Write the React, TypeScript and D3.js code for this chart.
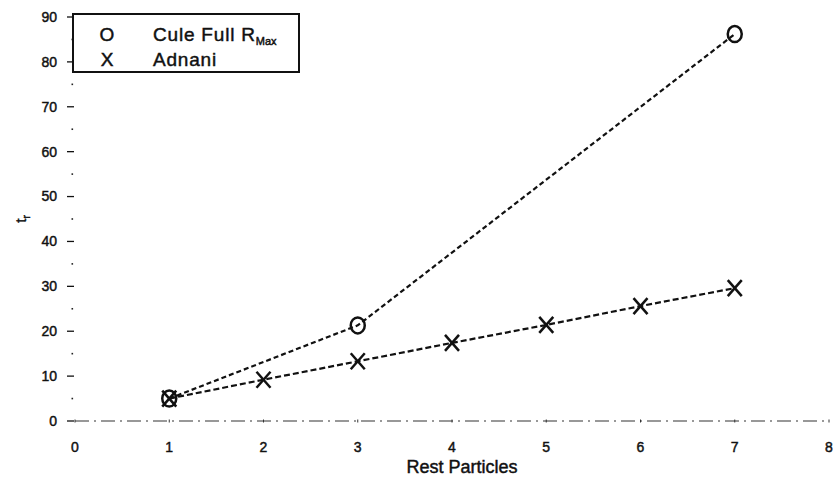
import React from "react";
import * as d3 from "d3";

// series
const culeX = [1, 3, 7];
const culeY = [5, 21.3, 86.2];
const adnaniX = [1, 2, 3, 4, 5, 6, 7];
const adnaniY = [5, 9.2, 13.3, 17.4, 21.4, 25.6, 29.6];

const xTicks = [0, 1, 2, 3, 4, 5, 6, 7, 8];
const yTicks = [0, 10, 20, 30, 40, 50, 60, 70, 80, 90];
const yMinor = [5, 15, 25, 35, 45, 55, 65, 75, 85];

const font = "'Liberation Sans', Arial, Helvetica, sans-serif";
// scanned text looks a little heavier than a plain regular face
const ink = { fill: "#111", stroke: "#111", strokeWidth: 0.45 };

export default function App() {
  const width = 836;
  const height = 487;

  const x = d3.scaleLinear().domain([0, 8]).range([75, 829]);
  const y = d3.scaleLinear().domain([0, 90]).range([421, 17]);

  const line = d3
    .line<[number, number]>()
    .x((d) => x(d[0]))
    .y((d) => y(d[1]));

  const cule = culeX.map((v, i) => [v, culeY[i]] as [number, number]);
  const adnani = adnaniX.map((v, i) => [v, adnaniY[i]] as [number, number]);

  return (
    <svg
      width={width}
      height={height}
      style={{ position: "absolute", left: 0, top: 0, background: "#fff" }}
      fontFamily={font}
    >
      {/* y axis ticks and labels */}
      {yTicks.map((t) => (
        <g key={"yt" + t}>
          <line x1={67} x2={74} y1={y(t)} y2={y(t)} stroke="#111" strokeWidth={1.3} />
          <text x={57} y={y(t)} dy="0.35em" textAnchor="end" fontSize={14} {...ink}>
            {t}
          </text>
        </g>
      ))}
      {yMinor.map((t) => (
        <rect key={"ym" + t} x={71.5} y={y(t) - 0.8} width={1.6} height={1.6} fill="#222" />
      ))}

      {/* x axis: faint dash-dot baseline */}
      <line
        x1={x(0)}
        x2={x(8)}
        y1={y(0)}
        y2={y(0)}
        stroke="#333"
        strokeWidth={1.1}
        strokeDasharray="14 5 2 5"
      />
      {xTicks.map((t) => (
        <g key={"xt" + t}>
          <line x1={x(t)} x2={x(t)} y1={y(0) - 1.5} y2={y(0) + 1.5} stroke="#333" strokeWidth={1} />
          <text x={x(t)} y={452} textAnchor="middle" fontSize={14} {...ink}>
            {t}
          </text>
        </g>
      ))}

      <text x={462} y={473} textAnchor="middle" fontSize={18} {...ink}>
        Rest Particles
      </text>
      <text transform="translate(26,219) rotate(-90)" textAnchor="middle" fontSize={15} {...ink}>
        t
        <tspan fontSize={10} dy={4}>
          r
        </tspan>
      </text>

      {/* series lines */}
      <path d={line(cule) || undefined} fill="none" stroke="#111" strokeWidth={2.2} strokeDasharray="5 3" />
      <path d={line(adnani) || undefined} fill="none" stroke="#111" strokeWidth={2.2} strokeDasharray="6 3" />

      {/* markers */}
      {cule.map((d, i) => (
        <ellipse
          key={"c" + i}
          cx={x(d[0])}
          cy={y(d[1])}
          rx={7}
          ry={8}
          fill="none"
          stroke="#111"
          strokeWidth={2.5}
        />
      ))}
      {adnani.map((d, i) => {
        const cx = x(d[0]);
        const cy = y(d[1]);
        return (
          <g key={"a" + i} stroke="#111" strokeWidth={2.5}>
            <line x1={cx - 7} y1={cy - 8} x2={cx + 7} y2={cy + 8} />
            <line x1={cx - 7} y1={cy + 8} x2={cx + 7} y2={cy - 8} />
          </g>
        );
      })}

      {/* legend */}
      <rect x={73} y={14} width={226} height={58} fill="#fff" stroke="#111" strokeWidth={2} />
      <text x={107} y={41} textAnchor="middle" fontSize={19} {...ink}>
        O
      </text>
      <text x={107} y={66} textAnchor="middle" fontSize={19} {...ink}>
        X
      </text>
      <text x={153} y={41} fontSize={19} letterSpacing={0.8} {...ink}>
        Cule Full R
        <tspan fontSize={11} dy={4} letterSpacing={0}>
          Max
        </tspan>
      </text>
      <text x={153} y={66} fontSize={19} letterSpacing={0.8} {...ink}>
        Adnani
      </text>
    </svg>
  );
}
